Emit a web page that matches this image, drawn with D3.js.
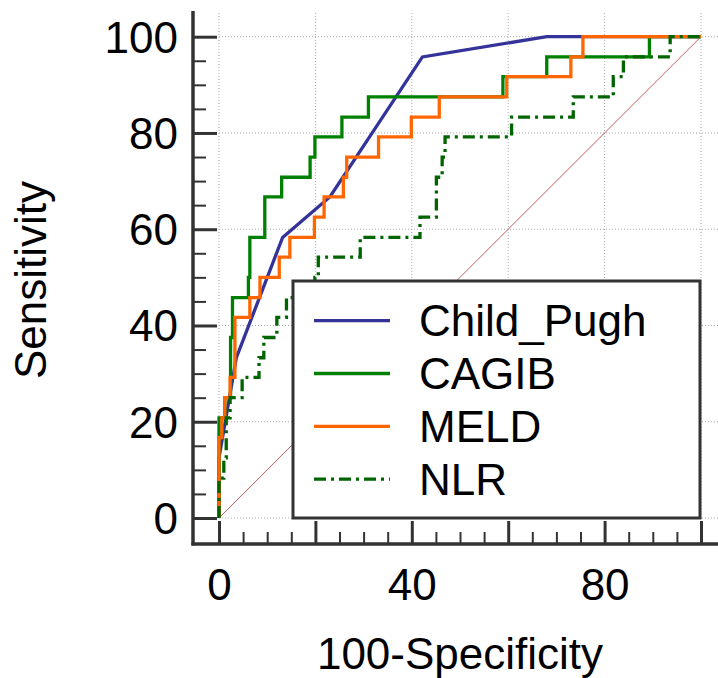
<!DOCTYPE html>
<html lang="en">
<head>
	<meta charset="utf-8">
	<title>ROC curves</title>
	<script src="https://d3js.org/d3.v7.min.js"></script>
	<style type="text/css">
		body { margin: 0; background: #fff; }
		svg text { font-family: "Liberation Sans", Arial, sans-serif; fill: #000; }
		.axis path, .axis line { stroke: #333; }
	</style>
</head>
<body>
<script type="text/javascript">

	// ROC points: [100-Specificity, Sensitivity]
	var childPugh = [[0,0],[0,12.5],[3.6,33.3],[13.2,58.3],[23,66.7],[42.2,95.8],[68,100],[100,100]];

	var cagib = [[0,0],[0,20.8],[1.2,20.8],[1.2,25],[2.4,25],[2.4,37.5],[2.8,37.5],[2.8,45.8],
		[6.1,45.8],[6.1,50],[6.4,50],[6.4,58.3],[9.5,58.3],[9.5,66.7],[13,66.7],[13,70.8],
		[18.9,70.8],[18.9,75],[19.9,75],[19.9,79.2],[25.5,79.2],[25.5,83.3],[31,83.3],[31,87.5],
		[58.9,87.5],[58.9,91.7],[68,91.7],[68,95.8],[89.3,95.8],[89.3,100],[100,100]];

	var meld = [[0,0],[0,16.7],[0.6,16.7],[0.6,20.8],[1.2,20.8],[1.2,25],[2.3,25],[2.3,29.2],
		[3.3,29.2],[3.3,41.7],[6.4,41.7],[6.4,45.8],[8.5,45.8],[8.5,50],[12.5,50],[12.5,54.2],
		[14.7,54.2],[14.7,58.3],[19.8,58.3],[19.8,62.5],[21.8,62.5],[21.8,66.7],[25.8,66.7],[25.8,70.8],
		[26.5,70.8],[26.5,75],[33.1,75],[33.1,79.2],[39.9,79.2],[39.9,83.3],[45.7,83.3],[45.7,87.5],
		[59.7,87.5],[59.7,91.7],[73,91.7],[73,95.8],[75.5,95.8],[75.5,100],[100,100]];

	var nlr = [[0,0],[0,8.3],[1,8.3],[1,12.5],[1.5,12.5],[1.5,20.8],[2.3,20.8],[2.3,25],
		[4.8,25],[4.8,29.2],[8.3,29.2],[8.3,33.3],[9.3,33.3],[9.3,37.5],[12,37.5],[12,41.7],
		[14,41.7],[14,45.8],[19.9,45.8],[19.9,50],[20.6,50],[20.6,54.2],[29.3,54.2],[29.3,58.3],
		[41.7,58.3],[41.7,62.5],[45.1,62.5],[45.1,70.8],[46.3,70.8],[46.3,75],[46.9,75],[46.9,79.2],
		[60.7,79.2],[60.7,83.3],[73.5,83.3],[73.5,87.5],[81.8,87.5],[81.8,91.7],[83.9,91.7],[83.9,95.8],
		[93.6,95.8],[93.6,100],[100,100]];

	var seriesNames = ["Child_Pugh", "CAGIB", "MELD", "NLR"];
	var seriesData = [childPugh, cagib, meld, nlr];
	var seriesColors = ["#333399", "#008000", "#ff6600", "#006400"];
	var seriesDash = [null, null, null, "12,5,3,5"];

	var xTickLabels = [0, 40, 80];
	var yTickLabels = [0, 20, 40, 60, 80, 100];
	var majorTicks = [0, 20, 40, 60, 80, 100];

	var width = 718, height = 678;

	var svg = d3.select("body").append("svg")
		.attr("width", width)
		.attr("height", height);

	// data scales (pixel positions read from the layout)
	var x = d3.scaleLinear().domain([0, 100]).range([219, 701]);
	var y = d3.scaleLinear().domain([0, 100]).range([518, 36.7]);

	var axisLeftX = 193, axisBottomY = 544, axisTopY = 11;

	// grid
	var grid = svg.append("g").attr("class", "grid");
	grid.selectAll("line.v").data(majorTicks).enter().append("line")
		.attr("x1", function(d) { return x(d); })
		.attr("x2", function(d) { return x(d); })
		.attr("y1", y(0))
		.attr("y2", axisTopY)
		.attr("stroke", "#aaa").attr("stroke-width", 1).attr("stroke-dasharray", "1,2");
	grid.selectAll("line.h").data(majorTicks).enter().append("line")
		.attr("x1", x(0))
		.attr("x2", width)
		.attr("y1", function(d) { return y(d); })
		.attr("y2", function(d) { return y(d); })
		.attr("stroke", "#aaa").attr("stroke-width", 1).attr("stroke-dasharray", "1,2");

	// reference diagonal
	svg.append("line")
		.attr("x1", x(0)).attr("y1", y(0))
		.attr("x2", x(100)).attr("y2", y(100))
		.attr("stroke", "#b86060").attr("stroke-width", 1);

	// curves
	var line = d3.line()
		.x(function(d) { return x(d[0]); })
		.y(function(d) { return y(d[1]); });

	svg.selectAll("path.roc").data(seriesData).enter().append("path")
		.attr("class", "roc")
		.attr("d", line)
		.attr("fill", "none")
		.attr("stroke", function(d, i) { return seriesColors[i]; })
		.attr("stroke-width", 3.3)
		.attr("stroke-dasharray", function(d, i) { return seriesDash[i]; });

	// legend
	var legend = svg.append("g").attr("class", "legend");
	legend.append("rect")
		.attr("x", 293).attr("y", 281)
		.attr("width", 407).attr("height", 237)
		.attr("fill", "#fff").attr("stroke", "#333").attr("stroke-width", 3);
	var items = legend.selectAll("g.item").data(seriesNames).enter().append("g")
		.attr("transform", function(d, i) { return "translate(0," + (320.7 + i * 52.8) + ")"; });
	items.append("line")
		.attr("x1", 314).attr("x2", 390)
		.attr("stroke", function(d, i) { return seriesColors[i]; })
		.attr("stroke-width", 3.3)
		.attr("stroke-dasharray", function(d, i) { return seriesDash[i]; });
	items.append("text")
		.attr("x", 419).attr("dy", "0.35em")
		.style("font-size", "44px")
		.text(function(d) { return d; });

	// axis scales covering the full axis lines
	var yAxisScale = d3.scaleLinear()
		.domain([y.invert(axisBottomY), y.invert(axisTopY)])
		.range([axisBottomY, axisTopY]);
	var xAxisScale = d3.scaleLinear()
		.domain([x.invert(axisLeftX), x.invert(width)])
		.range([axisLeftX, width]);

	var minorTicks = d3.range(0, 101, 5).filter(function(d) { return d % 20 !== 0; });

	// Y axis
	var yg = svg.append("g").attr("class", "axis").attr("transform", "translate(" + axisLeftX + ",0)");
	yg.append("line").attr("x1", 0).attr("x2", 0).attr("y1", axisTopY).attr("y2", axisBottomY + 1.5)
		.attr("stroke-width", 3.5);
	yg.append("g").call(d3.axisRight(yAxisScale).tickValues(majorTicks).tickSize(24).tickFormat(""))
		.call(function(g) { g.select(".domain").remove(); g.selectAll("line").attr("stroke-width", 3); });
	yg.append("g").call(d3.axisRight(yAxisScale).tickValues(minorTicks).tickSize(13).tickFormat(""))
		.call(function(g) { g.select(".domain").remove(); g.selectAll("line").attr("stroke-width", 2); });
	yg.append("g").call(d3.axisLeft(yAxisScale).tickValues(yTickLabels).tickSize(0).tickPadding(15))
		.call(function(g) {
			g.select(".domain").remove();
			g.selectAll("text").style("font-size", "44px").attr("dy", "0.35em").attr("fill", "#000");
		});

	// X axis
	var xg = svg.append("g").attr("class", "axis").attr("transform", "translate(0," + axisBottomY + ")");
	xg.append("line").attr("x1", axisLeftX - 1.5).attr("x2", width).attr("y1", 0).attr("y2", 0)
		.attr("stroke-width", 3.5);
	xg.append("g").call(d3.axisTop(xAxisScale).tickValues(majorTicks).tickSize(23).tickFormat(""))
		.call(function(g) { g.select(".domain").remove(); g.selectAll("line").attr("stroke-width", 3); });
	xg.append("g").call(d3.axisTop(xAxisScale).tickValues(minorTicks).tickSize(12).tickFormat(""))
		.call(function(g) { g.select(".domain").remove(); g.selectAll("line").attr("stroke-width", 2); });
	xg.append("g").call(d3.axisBottom(xAxisScale).tickValues(xTickLabels).tickSize(0))
		.call(function(g) {
			g.select(".domain").remove();
			g.selectAll("text").style("font-size", "44px").attr("y", 56).attr("dy", 0).attr("fill", "#000");
		});

	// axis titles
	svg.append("text")
		.attr("x", 460).attr("y", 669)
		.attr("text-anchor", "middle")
		.style("font-size", "44px")
		.text("100-Specificity");
	svg.append("text")
		.attr("transform", "translate(46,280) rotate(-90)")
		.attr("text-anchor", "middle")
		.style("font-size", "44px")
		.text("Sensitivity");

</script>
</body>
</html>
